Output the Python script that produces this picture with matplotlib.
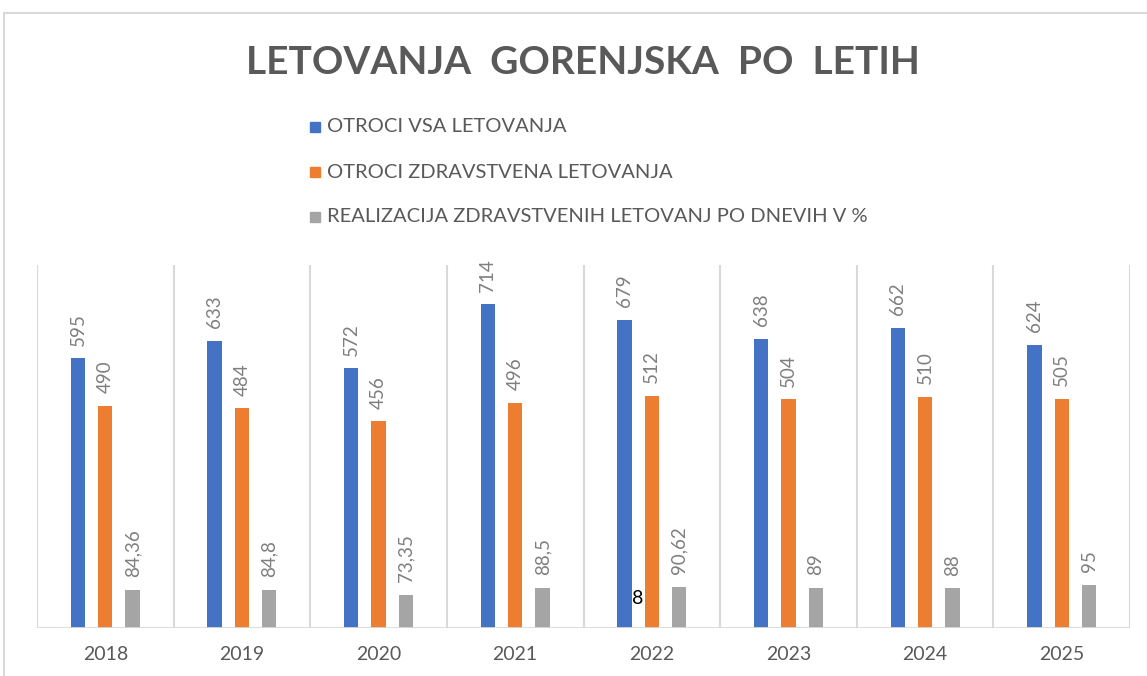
import matplotlib
matplotlib.use("Agg")
import matplotlib.pyplot as plt
from matplotlib.patches import Rectangle
import numpy as np

years = ["2018", "2019", "2020", "2021", "2022", "2023", "2024", "2025"]
vsa = [595, 633, 572, 714, 679, 638, 662, 624]
zdrav = [490, 484, 456, 496, 512, 504, 510, 505]
real = [84.36, 84.8, 73.35, 88.5, 90.62, 89, 88, 95]
real_labels = ["84,36", "84,8", "73,35", "88,5", "90,62", "89", "88", "95"]
series_names = ["OTROCI VSA LETOVANJA", "OTROCI ZDRAVSTVENA LETOVANJA",
                "REALIZACIJA ZDRAVSTVENIH LETOVANJ PO DNEVIH V %"]
colors = ["#4472C4", "#ED7D31", "#A5A5A5"]
title = "LETOVANJA  GORENJSKA  PO  LETIH"

W, H = 1147, 676
fig = plt.figure(figsize=(W / 100, H / 100), dpi=100)
font = "Lato"

# chart frame
fig.patches.append(Rectangle((4 / W, -0.1), 1.2, (H - 13) / H + 0.1, transform=fig.transFigure,
                             fill=False, edgecolor="#d9d9d9", linewidth=1.5))

ax = fig.add_axes([37 / W, 48 / H, 1093 / W, 363 / H])
x = np.arange(len(years))
off = 0.2
bw = 0.105
data = [vsa, zdrav, real]
labels = [[str(v) for v in vsa], [str(v) for v in zdrav], real_labels]
for i, (vals, c, labs) in enumerate(zip(data, colors, labels)):
    xs = x + (i - 1) * off
    ax.bar(xs, vals, width=bw, color=c, zorder=3)
    for xx, v, lab in zip(xs, vals, labs):
        ax.annotate(lab, (xx, v), xytext=(0, 9), textcoords="offset points",
                    rotation=90, ha="center", va="bottom", color="#7f7f7f",
                    fontsize=13.5, family=font)

ax.set_xlim(-0.5, len(years) - 0.5)
ax.set_ylim(0, 800)
for b in np.arange(-0.5, len(years), 1.0):
    ax.axvline(b, color="#d9d9d9", linewidth=1.5, zorder=1)
for s in ax.spines.values():
    s.set_visible(False)
ax.axhline(0, color="#d9d9d9", linewidth=2, zorder=4)
ax.set_yticks([])
ax.set_xticks(x)
ax.set_xticklabels(years, fontsize=14, color="#595959", family=font)
ax.tick_params(axis="x", length=0, pad=13)

fig.text(583 / W, 1 - 62 / H, title, ha="center", va="center", fontsize=28,
         fontweight="bold", color="#595959", family=font)

for k, (name, c) in enumerate(zip(series_names, colors)):
    yy = 1 - (127 + 45 * k) / H
    fig.patches.append(Rectangle((310 / W, yy - 5 / H), 10 / W, 10 / H,
                                 transform=fig.transFigure, color=c))
    fig.text(327 / W, yy, name, ha="left", va="center", fontsize=14.5,
             color="#595959", family=font)

# stray character present in the reference
fig.text(638 / W, 1 - 598 / H, "8", ha="center", va="center", fontsize=14,
         color="black", family=font)

fig.savefig("out.png", dpi=100)
